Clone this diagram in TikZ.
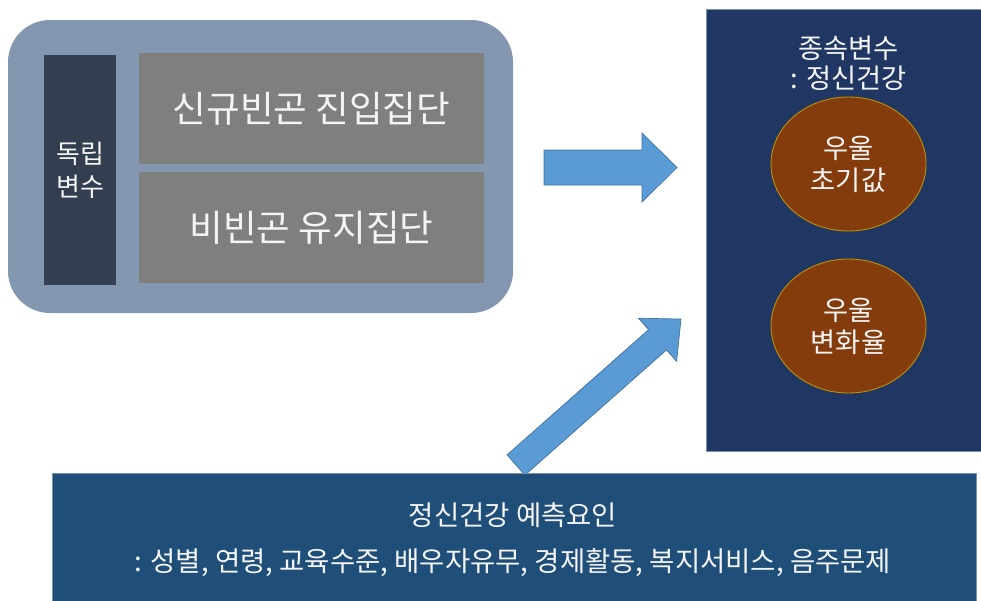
\documentclass[tikz,border=0pt]{standalone}
\usepackage{fontspec}
\setmainfont{Noto Sans CJK KR}
\usetikzlibrary{shapes.geometric}
\definecolor{outerc}{HTML}{8497B0}
\definecolor{ivc}{HTML}{333F50}
\definecolor{grayc}{HTML}{7F7F7F}
\definecolor{dvc}{HTML}{213763}
\definecolor{ellc}{HTML}{843C0C}
\definecolor{ellb}{HTML}{BF9000}
\definecolor{predc}{HTML}{1F4E79}
\definecolor{arrc}{HTML}{5B9BD5}
\definecolor{arrb}{HTML}{41719C}
\definecolor{edgec}{HTML}{7A90B0}
\definecolor{txtc}{HTML}{F4F4F4}
\begin{document}
\begin{tikzpicture}[x=1pt,y=-1pt,
  panel/.style={rectangle, inner sep=0pt, text=txtc, align=center},
  graybox/.style={panel, fill=grayc, minimum width=345pt, minimum height=111pt, font=\fontsize{36.6}{44}\selectfont},
  oval/.style={ellipse, inner sep=0pt, fill=ellc, draw=ellb, line width=0.9pt, minimum width=155pt, minimum height=134pt, text=txtc, align=center, font=\fontsize{27.3}{32}\selectfont},
  bigarrow/.style={fill=arrc, draw=arrb, line width=0.7pt, line join=miter}
]
\useasboundingbox (0,0) rectangle (981,600);
% left group
\node[panel, fill=outerc, rounded corners=42pt, minimum width=505pt, minimum height=293pt] (outer) at (260.5,166.5) {};
\node[panel, fill=ivc, minimum width=72pt, minimum height=230pt, font=\fontsize{26}{33}\selectfont] (iv) at (80,170) {독립\\변수};
\node[graybox] (g1) at (311.5,108.5) {신규빈곤 진입집단};
\node[graybox] (g2) at (311.5,227.5) {비빈곤 유지집단};
% right panel
\node[panel, fill=dvc, draw=edgec, line width=0.8pt, minimum width=279pt, minimum height=442pt] (dv) at (845.5,230) {};
\node[panel, font=\fontsize{27.3}{30}\selectfont] (dvt) at (848.5,63) {종속변수\\: 정신건강};
\node[oval] (e1) at (848.5,164) {우울\\초기값};
\node[oval] (e2) at (848.5,326) {우울\\변화율};
% arrows
\coordinate (a1s) at (544,167.5);
\coordinate (a2s) at (516,465);
\begin{scope}[shift={(a1s)}]
  \draw[bigarrow] (0,-17.5) -- (98,-17.5) -- (98,-34.5) -- (133,0) -- (98,34.5) -- (98,17.5) -- (0,17.5) -- cycle;
\end{scope}
\begin{scope}[shift={(a2s)}, rotate=41.5]
  \draw[bigarrow] (0,-13.5) -- (189,-13.5) -- (189,-28.8) -- (220.3,0) -- (189,28.8) -- (189,13.5) -- (0,13.5) -- cycle;
\end{scope}
% bottom box
\node[panel, fill=predc, draw=edgec, line width=0.8pt, minimum width=924pt, minimum height=132pt] (pred) at (514,539) {};
\node[panel, font=\fontsize{27.5}{46}\selectfont] (predt) at (513,540) {정신건강 예측요인\\: 성별, 연령, 교육수준, 배우자유무, 경제활동, 복지서비스, 음주문제};
\end{tikzpicture}
\end{document}
